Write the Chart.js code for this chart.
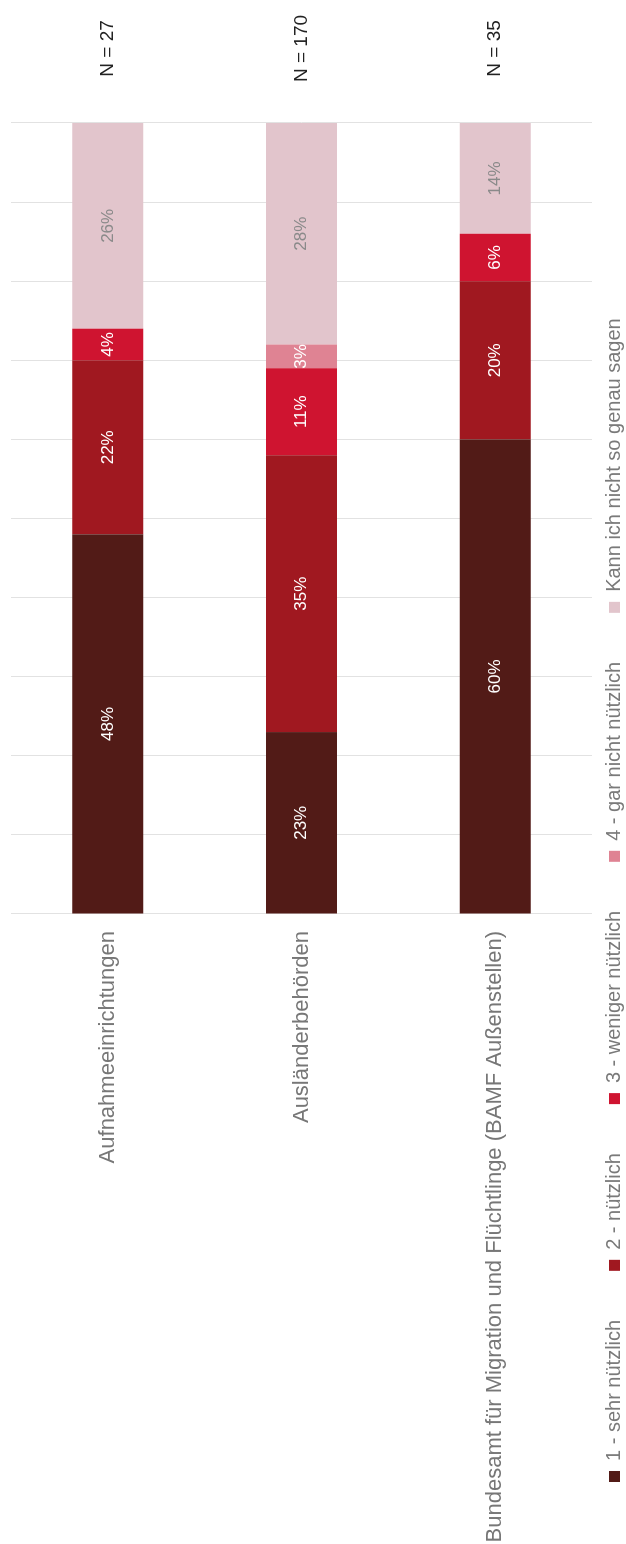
<!DOCTYPE html>
<html><head><meta charset="utf-8">
<script src="https://cdn.jsdelivr.net/npm/chart.js@4"></script>
<style>
html,body{margin:0;padding:0;background:#fff;overflow:hidden;width:626px;height:1544px;}
#wrap{position:absolute;left:0;top:0;width:1544px;height:626px;transform-origin:0 0;transform:translateY(1544px) rotate(-90deg);}
</style></head><body>
<div id="wrap"><canvas id="c" width="1544" height="626"></canvas></div>
<script>
const categories = ['Aufnahmeeinrichtungen', 'Ausländerbehörden', 'Bundesamt für Migration und Flüchtlinge (BAMF Außenstellen)'];
const sampleSizes = ['N = 27', 'N = 170', 'N = 35'];
const seriesNames = ['1 - sehr nützlich', '2 - nützlich', '3 - weniger nützlich', '4 - gar nicht nützlich', 'Kann ich nicht so genau sagen'];
const sehrNuetzlich = [48, 23, 60];
const nuetzlich = [22, 35, 20];
const wenigerNuetzlich = [4, 11, 6];
const garNichtNuetzlich = [0, 3, 0];
const kannNichtSagen = [26, 28, 14];
const xTicks = [0, 10, 20, 30, 40, 50, 60, 70, 80, 90, 100];

const seriesValues = [sehrNuetzlich, nuetzlich, wenigerNuetzlich, garNichtNuetzlich, kannNichtSagen];
const seriesColors = ['#521b17', '#a01820', '#cf1430', '#df8393', '#e2c5cc'];
const labelColors = ['#ffffff', '#ffffff', '#ffffff', '#ffffff', '#8a8a8a'];
const FONT = '"Liberation Sans", Arial, Helvetica, sans-serif';

Chart.defaults.font.family = FONT;

const valueLabels = {
  id: 'valueLabels',
  afterDatasetsDraw(chart) {
    const ctx = chart.ctx;
    ctx.save();
    ctx.font = '17px ' + FONT;
    ctx.textAlign = 'center';
    ctx.textBaseline = 'middle';
    chart.data.datasets.forEach((ds, i) => {
      const meta = chart.getDatasetMeta(i);
      meta.data.forEach((el, j) => {
        const v = ds.data[j];
        if (!v) return;
        ctx.fillStyle = labelColors[i];
        ctx.fillText(v + '%', (el.x + el.base) / 2, el.y);
      });
    });
    ctx.restore();
  }
};

const rowLegend = {
  id: 'rowLegend',
  afterDraw(chart, args, opts) {
    const ctx = chart.ctx;
    ctx.save();
    ctx.font = opts.fontSize + 'px ' + FONT;
    ctx.textBaseline = 'middle';
    ctx.textAlign = 'left';
    let x = opts.startX;
    const y = chart.height - opts.bottomOffset;
    chart.data.datasets.forEach(ds => {
      ctx.fillStyle = ds.backgroundColor;
      ctx.fillRect(x, y - opts.box / 2, opts.box, opts.box);
      x += opts.box + opts.textGap;
      ctx.fillStyle = opts.color;
      ctx.fillText(ds.label, x, y);
      x += ctx.measureText(ds.label).width + opts.itemGap;
    });
    ctx.restore();
  }
};

function noPad(s) { s.paddingTop = 0; s.paddingBottom = 0; }

new Chart(document.getElementById('c'), {
  type: 'bar',
  data: {
    labels: categories,
    datasets: seriesNames.map((name, i) => ({
      label: name,
      data: seriesValues[i],
      backgroundColor: seriesColors[i],
      borderWidth: 0,
      categoryPercentage: 1,
      barPercentage: 0.367
    }))
  },
  options: {
    indexAxis: 'y',
    responsive: false,
    animation: false,
    devicePixelRatio: 1,
    layout: { padding: { left: 0, right: 0, top: 11, bottom: 34 } },
    plugins: {
      legend: { display: false },
      tooltip: { enabled: false },
      rowLegend: { startX: 62, bottomOffset: 11.5, box: 11, textGap: 10, itemGap: 49, fontSize: 20, color: '#7a7a7a' }
    },
    scales: {
      x: {
        stacked: true, min: 0, max: 100, position: 'bottom',
        afterBuildTicks(s) { s.ticks = xTicks.map(v => ({ value: v })); },
        ticks: { display: false },
        grid: { color: '#e2e2e2', lineWidth: 1, drawTicks: false },
        border: { display: false }
      },
      y: {
        stacked: true, position: 'left',
        grid: { display: false, drawTicks: false },
        border: { display: false },
        ticks: { color: '#777777', font: { size: 22 }, padding: 17 },
        afterFit(s) { s.width = 630; noPad(s); }
      },
      y2: {
        type: 'category', labels: sampleSizes, position: 'right', offset: true,
        grid: { display: false, drawTicks: false },
        border: { display: false },
        ticks: { color: '#222222', font: { size: 19 }, crossAlign: 'center', padding: 41 },
        afterFit(s) { s.width = 123; noPad(s); }
      }
    }
  },
  plugins: [valueLabels, rowLegend]
});
</script>
</body></html>
